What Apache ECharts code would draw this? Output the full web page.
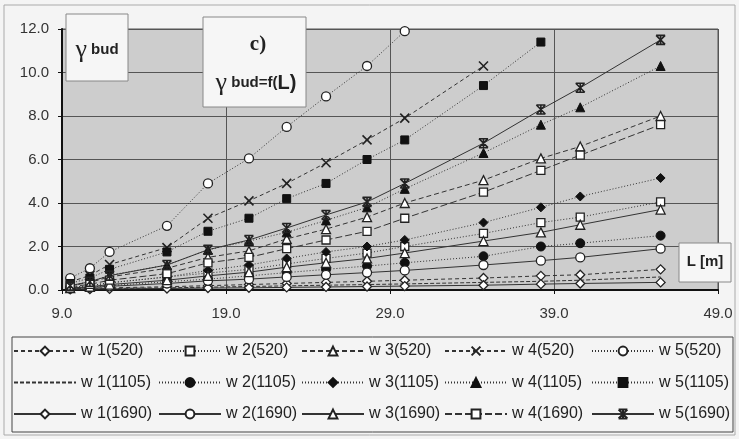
<!DOCTYPE html>
<html>
<head>
<meta charset="utf-8">
<script src="https://cdn.jsdelivr.net/npm/echarts@6/dist/echarts.min.js"></script>
<style>
html,body{margin:0;padding:0;background:#f4f4f4;}
#c{width:739px;height:439px;}
</style>
</head>
<body>
<div id="c"></div>
<script>
// Span L [m]
const L = [9.5, 10.7, 11.9, 15.4, 17.9, 20.4, 22.7, 25.1, 27.6, 29.9, 34.7, 38.2, 40.6, 45.5];
const xTicks = [9, 19, 29, 39, 49];
const yTicks = [0, 2, 4, 6, 8, 10, 12];

// 520 series
const w1_520 = [0.06, 0.08, 0.1, 0.15, 0.2, 0.25, 0.3, 0.35, 0.4, 0.45, 0.55, 0.65, 0.7, 0.95];
const w2_520 = [0.12, 0.2, 0.33, 0.6, 0.78, 0.95, 1.2, 1.45, 1.7, 2.0, 2.6, 3.1, 3.35, 4.05];
const w3_520 = [0.2, 0.35, 0.6, 1.0, 1.5, 1.8, 2.35, 2.8, 3.35, 4.0, 5.05, 6.05, 6.6, 8.0];
const w4_520 = [0.37, 0.67, 1.17, 1.95, 3.3, 4.1, 4.9, 5.85, 6.9, 7.9, 10.3, null, null, null];
const w5_520 = [0.55, 1.0, 1.75, 2.95, 4.9, 6.05, 7.5, 8.9, 10.3, 11.9, null, null, null, null];
// 1105 series
const w1_1105 = [0.04, 0.05, 0.07, 0.1, 0.13, 0.16, 0.19, 0.22, 0.25, 0.28, 0.35, 0.4, 0.45, 0.6];
const w2_1105 = [0.08, 0.13, 0.2, 0.38, 0.5, 0.65, 0.8, 0.95, 1.1, 1.25, 1.55, 2.0, 2.15, 2.5];
const w3_1105 = [0.11, 0.2, 0.33, 0.6, 0.9, 1.15, 1.45, 1.75, 2.0, 2.3, 3.1, 3.8, 4.3, 5.15];
const w4_1105 = [0.2, 0.38, 0.68, 1.15, 1.85, 2.25, 2.65, 3.2, 3.8, 4.65, 6.3, 7.6, 8.4, 10.3];
const w5_1105 = [0.3, 0.55, 0.95, 1.75, 2.7, 3.3, 4.2, 4.9, 6.0, 6.9, 9.4, 11.4, null, null];
// 1690 series
const w1_1690 = [0.03, 0.04, 0.05, 0.07, 0.09, 0.1, 0.12, 0.14, 0.16, 0.18, 0.22, 0.27, 0.3, 0.35];
const w2_1690 = [0.07, 0.11, 0.17, 0.3, 0.42, 0.5, 0.6, 0.7, 0.8, 0.9, 1.15, 1.35, 1.5, 1.9];
const w3_1690 = [0.09, 0.15, 0.25, 0.45, 0.65, 0.82, 1.05, 1.25, 1.45, 1.7, 2.25, 2.65, 3.0, 3.7];
const w4_1690 = [0.15, 0.26, 0.45, 0.75, 1.25, 1.5, 1.9, 2.3, 2.7, 3.3, 4.5, 5.5, 6.2, 7.6];
const w5_1690 = [0.2, 0.38, 0.66, 1.15, 1.85, 2.3, 2.85, 3.45, 4.05, 4.9, 6.75, 8.3, 9.3, 11.5];

const XMARK = 'path://M0,0L10,10M10,0L0,10';
const STAR = 'path://M0,0L10,10M10,0L0,10M0,0L10,0M0,10L10,10M5,0L5,10';
const INK = '#222';

const defs = [
  {name:'w 1(520)', data:w1_520, sym:'diamond', open:true, dash:[4,3]},
  {name:'w 2(520)', data:w2_520, sym:'rect', open:true, dash:[1,2]},
  {name:'w 3(520)', data:w3_520, sym:'triangle', open:true, dash:[5,3]},
  {name:'w 4(520)', data:w4_520, sym:XMARK, path:true, dash:[4,3]},
  {name:'w 5(520)', data:w5_520, sym:'circle', open:true, dash:[1,2]},
  {name:'w 1(1105)', data:w1_1105, sym:'circle', hidden:true, dash:[4,2]},
  {name:'w 2(1105)', data:w2_1105, sym:'circle', open:false, dash:[1,2]},
  {name:'w 3(1105)', data:w3_1105, sym:'diamond', open:false, dash:[1,2]},
  {name:'w 4(1105)', data:w4_1105, sym:'triangle', open:false, dash:[1,2]},
  {name:'w 5(1105)', data:w5_1105, sym:'rect', open:false, dash:[1,2]},
  {name:'w 1(1690)', data:w1_1690, sym:'diamond', open:true, dash:'solid'},
  {name:'w 2(1690)', data:w2_1690, sym:'circle', open:true, dash:'solid'},
  {name:'w 3(1690)', data:w3_1690, sym:'triangle', open:true, dash:'solid'},
  {name:'w 4(1690)', data:w4_1690, sym:'rect', open:true, dash:[7,3]},
  {name:'w 5(1690)', data:w5_1690, sym:STAR, path:true, dash:'solid'}
];

const series = defs.map(d => {
  let itemStyle;
  if (d.hidden) itemStyle = {color:'rgba(0,0,0,0)', borderColor:'rgba(0,0,0,0)', borderWidth:0};
  else if (d.path) itemStyle = {color:INK, borderColor:INK, borderWidth:1.6};
  else if (d.open) itemStyle = {color:'#ffffff', borderColor:INK, borderWidth:1.3};
  else itemStyle = {color:'#111', borderColor:'#111', borderWidth:1};
  return {
    type:'line', name:d.name,
    data: L.map((x,i) => [x, d.data[i]]),
    symbol: d.sym, symbolSize: d.sym === 'rect' ? 8 : 9,
    showSymbol: !d.hidden,
    connectNulls:false,
    lineStyle:{color:'#333', width:1, type:d.dash},
    itemStyle: itemStyle,
    emphasis:{disabled:true},
    animation:false
  };
});

const FS = 'Liberation Sans, Arial, sans-serif';
const SERIF = 'Liberation Serif, DejaVu Serif, serif';

const legendLeft = [8, 153, 296, 439, 586];
const legends = legendLeft.map((lx,k) => ({
  orient:'vertical', left:lx, top:338,
  itemWidth:62, itemHeight:11, itemGap:15.5,
  selectedMode:false,
  textStyle:{fontSize:16, fontFamily:FS, color:'#222'},
  data:[defs[k].name, defs[k+5].name, defs[k+10].name]
}));

const chart = echarts.init(document.getElementById('c'), null, {renderer:'canvas'});
chart.setOption({
  backgroundColor:'#f4f4f4',
  animation:false,
  grid:{left:62, right:21, top:29, bottom:149, show:true, backgroundColor:'#cdcdcd', borderColor:'#555', borderWidth:1},
  xAxis:{
    type:'value', min:xTicks[0], max:xTicks[xTicks.length-1], interval:10,
    axisLine:{show:true, onZero:false, lineStyle:{color:'#111', width:2}},
    axisTick:{show:true, length:4, lineStyle:{color:'#111'}, customValues:xTicks},
    axisLabel:{margin:16, fontSize:15, fontFamily:FS, color:'#333', customValues:xTicks, formatter:v => Number(v).toFixed(1)},
    splitLine:{show:true, lineStyle:{color:'#555', width:1}}
  },
  yAxis:{
    type:'value', min:yTicks[0], max:yTicks[yTicks.length-1], interval:2,
    axisLine:{show:true, lineStyle:{color:'#111', width:2}},
    axisTick:{show:true, length:4, lineStyle:{color:'#111'}},
    axisLabel:{margin:13, fontSize:15, fontFamily:FS, color:'#333', formatter:v => v.toFixed(1)},
    splitLine:{show:true, lineStyle:{color:'#555', width:1}}
  },
  legend: legends,
  series: series,
  graphic:[
    {type:'rect', z:100, shape:{x:4, y:5, width:731, height:430}, style:{fill:'none', stroke:'#aaa', lineWidth:1}},
    {type:'rect', z:100, shape:{x:12, y:337, width:721, height:95}, style:{fill:'none', stroke:'#444', lineWidth:1}},
    {type:'rect', z:100, shape:{x:66, y:14, width:62, height:67}, style:{fill:'#f6f6f6', stroke:'#888', lineWidth:1}},
    {type:'text', z:101, x:97, y:50, style:{text:'{g|γ}{b| bud}', align:'center', verticalAlign:'middle',
      rich:{g:{fontFamily:SERIF, fontSize:26, fill:'#222', verticalAlign:'middle'}, b:{fontFamily:FS, fontWeight:'bold', fontSize:15, fill:'#222', verticalAlign:'middle'}}}},
    {type:'rect', z:100, shape:{x:203, y:17, width:103, height:90}, style:{fill:'#f6f6f6', stroke:'#888', lineWidth:1}},
    {type:'text', z:101, x:258, y:45, style:{text:'c)', align:'center', verticalAlign:'middle', font:'bold 21px '+SERIF, fill:'#222'}},
    {type:'text', z:101, x:256, y:83, style:{text:'{g|γ}{b| bud=f(}{l|L)}', align:'center', verticalAlign:'middle',
      rich:{g:{fontFamily:SERIF, fontSize:26, fill:'#222', verticalAlign:'middle'}, b:{fontFamily:FS, fontWeight:'bold', fontSize:15, fill:'#222', verticalAlign:'middle'}, l:{fontFamily:FS, fontWeight:'bold', fontSize:20, fill:'#222', verticalAlign:'middle'}}}},
    {type:'rect', z:100, shape:{x:679, y:243, width:52, height:39}, style:{fill:'#f6f6f6', stroke:'#888', lineWidth:1}},
    {type:'text', z:101, x:705, y:262, style:{text:'L [m]', align:'center', verticalAlign:'middle', font:'bold 15px '+FS, fill:'#222'}}
  ]
});
</script>
</body>
</html>
